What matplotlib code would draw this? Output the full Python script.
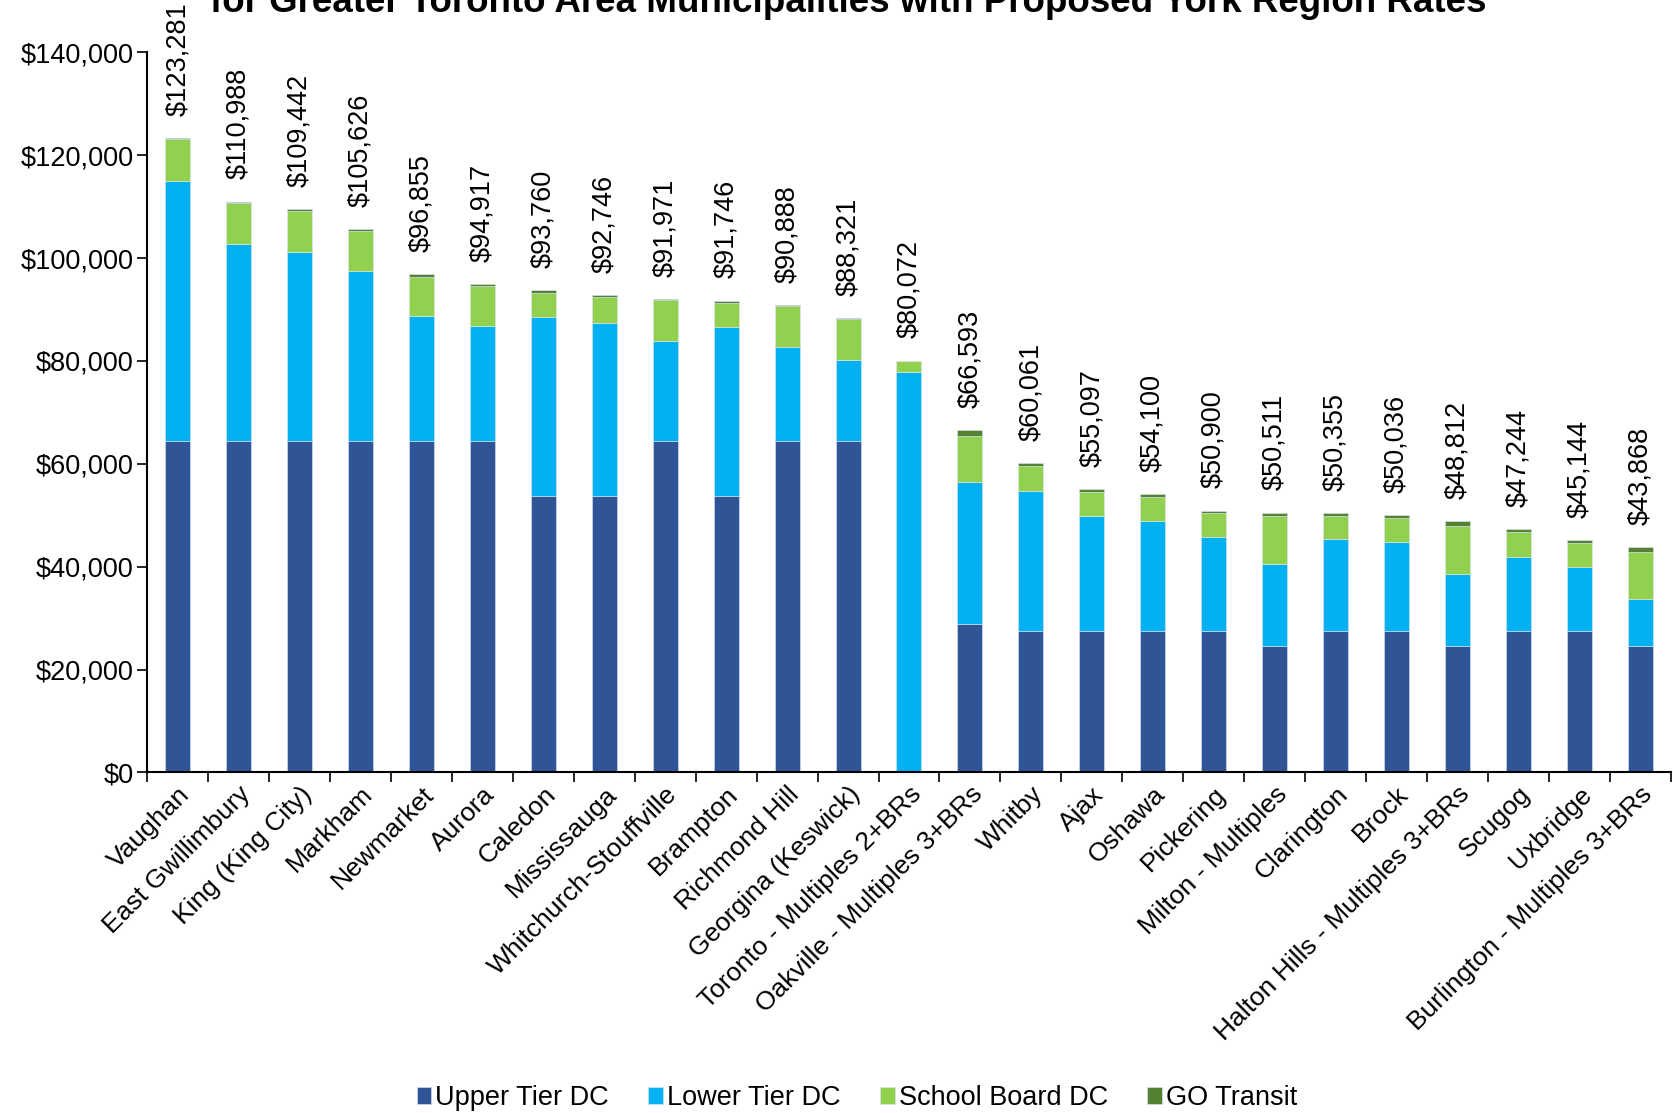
import matplotlib
matplotlib.use('Agg')
import matplotlib.pyplot as plt
import numpy as np

plt.rcParams['font.family'] = ['Liberation Sans', 'DejaVu Sans']

municipalities = ['Vaughan', 'East Gwillimbury', 'King (King City)', 'Markham', 'Newmarket',
                  'Aurora', 'Caledon', 'Mississauga', 'Whitchurch-Stouffville', 'Brampton',
                  'Richmond Hill', 'Georgina (Keswick)', 'Toronto - Multiples 2+BRs',
                  'Oakville - Multiples 3+BRs', 'Whitby', 'Ajax', 'Oshawa', 'Pickering',
                  'Milton - Multiples', 'Clarington', 'Brock', 'Halton Hills - Multiples 3+BRs',
                  'Scugog', 'Uxbridge', 'Burlington - Multiples 3+BRs']

upper_tier = [64500, 64500, 64500, 64500, 64500, 64500, 53800, 53800, 64500, 53800,
              64500, 64500, 0, 28900, 27400, 27400, 27400, 27400, 24500, 27400,
              27400, 24500, 27400, 27400, 24500]
lower_tier = [50500, 38300, 36600, 32900, 24200, 22300, 34700, 33600, 19400, 32800,
              18200, 15700, 77900, 27600, 27400, 22450, 21400, 18300, 16000, 17900,
              17450, 14100, 14550, 12500, 9150]
school_board = [8100, 7900, 8000, 7900, 7700, 7700, 4800, 5000, 7900, 4600,
                7900, 8000, 2172, 8900, 4800, 4750, 4800, 4750, 9350, 4550,
                4570, 9400, 4800, 4750, 9150]
go_transit = [181, 288, 342, 326, 455, 417, 460, 346, 171, 546,
              288, 121, 0, 1193, 461, 497, 500, 450, 661, 505,
              616, 812, 494, 494, 1068]
totals = ['$123,281', '$110,988', '$109,442', '$105,626', '$96,855', '$94,917', '$93,760',
          '$92,746', '$91,971', '$91,746', '$90,888', '$88,321', '$80,072', '$66,593',
          '$60,061', '$55,097', '$54,100', '$50,900', '$50,511', '$50,355', '$50,036',
          '$48,812', '$47,244', '$45,144', '$43,868']

series = [('Upper Tier DC', upper_tier, '#2F5597'),
          ('Lower Tier DC', lower_tier, '#00B0F0'),
          ('School Board DC', school_board, '#92D050'),
          ('GO Transit', go_transit, '#548235')]

fig = plt.figure(figsize=(16.74, 11.13), dpi=100)
ax = fig.add_axes([0.088, 0.306, 0.91, 0.647])

x = np.arange(len(municipalities))
bottom = np.zeros(len(municipalities))
for name, vals, color in series:
    vals = np.array(vals, dtype=float)
    ax.bar(x, vals, width=0.41, bottom=bottom, color=color, label=name,
           edgecolor='#dde6f0', linewidth=0.4)
    bottom += vals

for xi, top, lab in zip(x, bottom, totals):
    ax.annotate(lab, (xi, top), xytext=(0, 16), textcoords='offset points',
                rotation=90, ha='center', va='bottom', fontsize=19.5, annotation_clip=False)

ax.set_xlim(-0.5, len(municipalities) - 0.5)
ax.set_ylim(0, 140000)
ax.set_yticks(np.arange(0, 140001, 20000))
ax.set_yticklabels(['${:,.0f}'.format(v) for v in np.arange(0, 140001, 20000)], fontsize=19.5)
ax.set_xticks(x)
ax.set_xticklabels(municipalities, rotation=45, ha='right', rotation_mode='anchor', fontsize=19)
ax.tick_params(axis='x', which='major', length=0, pad=7)
ax.set_xticks(np.arange(-0.5, len(municipalities), 1), minor=True)
ax.tick_params(axis='x', which='minor', length=7, width=1.2, direction='out')
ax.tick_params(axis='y', length=7, width=1.2, direction='out', pad=3)
for s in ['top', 'right']:
    ax.spines[s].set_visible(False)
for s in ['left', 'bottom']:
    ax.spines[s].set_linewidth(1.5)

fig.text(0.507, 0.989, 'for Greater Toronto Area Municipalities with Proposed York Region Rates',
         ha='center', va='baseline', fontsize=26.5, fontweight='bold')

fig.legend(loc='center', bbox_to_anchor=(0.512, 0.0135), ncol=4, frameon=False,
           fontsize=19.5, handlelength=0.55, handleheight=0.55, handletextpad=0.15,
           columnspacing=1.45)

fig.savefig('out.png', dpi=100)
